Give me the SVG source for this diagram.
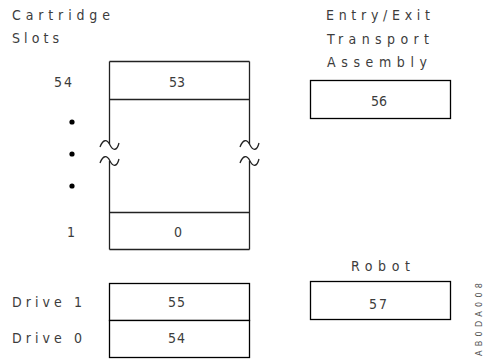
<svg xmlns="http://www.w3.org/2000/svg" width="488" height="360" viewBox="0 0 488 360">
  <style>
    .box { fill: #ffffff; stroke: #000000; stroke-width: 1.3; }
    .ln { fill: none; stroke: #222222; stroke-width: 1.3; }
    .t { font-family: "DejaVu Sans Condensed", "Liberation Sans", sans-serif; font-stretch: condensed; font-size: 14px; fill: #3c3c3c; }
    .s { font-family: "DejaVu Sans Condensed", "Liberation Sans", sans-serif; font-stretch: condensed; font-size: 9px; fill: #555555; }
  </style>
  <rect width="488" height="360" fill="#ffffff"/>

  <!-- Cartridge slot column -->
  <g id="slots-label">
    <text class="t" x="12" y="20" textLength="98" lengthAdjust="spacing">Cartridge</text>
    <text class="t" x="12" y="43" textLength="47" lengthAdjust="spacing">Slots</text>
  </g>
  <g id="slot-column">
    <!-- top and bottom edges, slot dividers -->
    <path class="ln" d="M109.5,61.5 H249.5 M109.5,99.5 H249.5 M109.5,212.5 H249.5 M109.5,249.5 H249.5"/>
    <!-- side walls, broken for the omitted slots -->
    <path class="ln" d="M109.5,61.5 V144 M109.5,161 V249.5 M249.5,61.5 V144 M249.5,161 V249.5"/>
    <!-- break marks -->
    <path class="ln" d="M100,147 C103,139 107,139 110,145 C113,151 117,151 119,143"/>
    <path class="ln" d="M100,163 C103,155 107,155 110,161 C113,167 117,167 119,159"/>
    <path class="ln" d="M240,147 C243,139 247,139 250,145 C253,151 257,151 259,143"/>
    <path class="ln" d="M240,163 C243,155 247,155 250,161 C253,167 257,167 259,159"/>
    <text class="t" x="54" y="87" textLength="18" lengthAdjust="spacing">54</text>
    <text class="t" x="169" y="87" textLength="16" lengthAdjust="spacing">53</text>
    <circle cx="72" cy="122" r="2.6" fill="#000000"/>
    <circle cx="72" cy="154" r="2.6" fill="#000000"/>
    <circle cx="72" cy="186" r="2.6" fill="#000000"/>
    <text class="t" x="67" y="237">1</text>
    <text class="t" x="174" y="237">0</text>
  </g>

  <!-- Entry/Exit transport assembly -->
  <g id="entry-exit">
    <text class="t" x="326" y="20" textLength="104" lengthAdjust="spacing">Entry/Exit</text>
    <text class="t" x="327" y="44" textLength="102" lengthAdjust="spacing">Transport</text>
    <text class="t" x="327" y="67" textLength="100" lengthAdjust="spacing">Assembly</text>
    <rect class="box" x="310.5" y="80.5" width="140" height="38"/>
    <text class="t" x="371" y="106" textLength="16" lengthAdjust="spacing">56</text>
  </g>

  <!-- Robot -->
  <g id="robot">
    <text class="t" x="351" y="271" textLength="59" lengthAdjust="spacing">Robot</text>
    <rect class="box" x="310.5" y="281.5" width="140" height="38"/>
    <text class="t" x="369" y="309" textLength="18" lengthAdjust="spacing">57</text>
  </g>

  <!-- Drives -->
  <g id="drives">
    <rect class="box" x="109.5" y="283.5" width="140" height="37"/>
    <rect class="box" x="109.5" y="320.5" width="140" height="37"/>
    <text class="t" x="12" y="307" textLength="70" lengthAdjust="spacing">Drive 1</text>
    <text class="t" x="12" y="343" textLength="70" lengthAdjust="spacing">Drive 0</text>
    <text class="t" x="168" y="307" textLength="17" lengthAdjust="spacing">55</text>
    <text class="t" x="168" y="343" textLength="17" lengthAdjust="spacing">54</text>
  </g>

  <!-- figure code -->
  <text class="s" transform="translate(482,356) rotate(-90)" textLength="73" lengthAdjust="spacing">AB0DA008</text>
</svg>
